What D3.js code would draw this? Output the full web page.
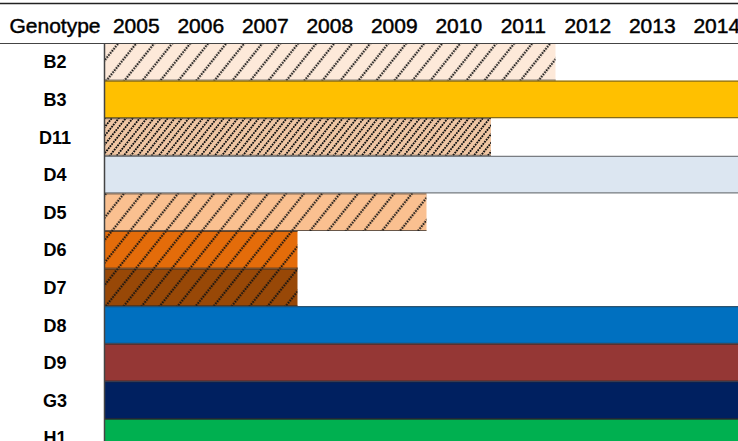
<!DOCTYPE html>
<html>
<head>
<meta charset="utf-8">
<script src="https://cdn.jsdelivr.net/npm/d3@7"></script>
<style>
  html, body { margin: 0; padding: 0; background: #fff; }
  svg { display: block; font-family: "Liberation Sans", Arial, sans-serif; }
</style>
</head>
<body>
<div id="graf"></div>
<script>
// I. Datos
genotypes = ['B2', 'B3', 'D11', 'D4', 'D5', 'D6', 'D7', 'D8', 'D9', 'G3', 'H1']
years     = [2005, 2006, 2007, 2008, 2009, 2010, 2011, 2012, 2013, 2014]
firstYear = [2005, 2005, 2005, 2005, 2005, 2005, 2005, 2005, 2005, 2005, 2005]
lastYear  = [2011, 2014, 2010, 2014, 2009, 2007, 2007, 2014, 2014, 2014, 2014]
fills     = ['#fde9d9', '#ffc000', '#efc6a4', '#dce6f1', '#fac090', '#e46c0a',
             '#984807', '#0070c0', '#953735', '#002060', '#00b050']
hatch     = ['wide', null, 'dense', null, 'wide', 'wide', 'wide', null, null, null, null]

// II. Configuración
ancho = 738
alto  = 441
margins = { top: 43, left: 104 }
colW = 64.5
rowH = 37.6

svg = d3.select('#graf').append('svg')
        .attr('width', ancho)
        .attr('height', alto)

x = d3.scaleLinear()
      .domain([2005, 2015])
      .range([margins.left, margins.left + colW * 10])

y = d3.scaleBand()
      .domain(genotypes)
      .range([margins.top, margins.top + rowH * genotypes.length])
      .padding(0)

// patrones de rayas (lineas diagonales punteadas)
defs = svg.append('defs')
function makeHatch(id, spacing, sw) {
  p = defs.append('pattern')
        .attr('id', id)
        .attr('patternUnits', 'userSpaceOnUse')
        .attr('width', 5.4)
        .attr('height', spacing)
        .attr('patternTransform', 'rotate(-51.3)')
  p.append('line')
    .attr('x1', 0).attr('x2', 5.4)
    .attr('y1', spacing / 2).attr('y2', spacing / 2)
    .attr('stroke', '#111')
    .attr('stroke-width', sw)
    .attr('stroke-dasharray', '1.8 0.9')
}
makeHatch('wide', 18 * Math.sin(51.3 * Math.PI / 180), 1.7)
makeHatch('dense', 7 * Math.sin(51.3 * Math.PI / 180), 1.6)

rows = genotypes.map((g, i) => ({
  g: g, start: firstYear[i], end: lastYear[i] + 1, fill: fills[i], hatch: hatch[i]
}))

// III. Barras
gBars = svg.append('g')

bars = gBars.selectAll('g.bar')
  .data(rows)
  .enter()
  .append('g')
    .attr('class', 'bar')

bars.append('rect')
    .attr('x', d => x(d.start))
    .attr('y', d => y(d.g))
    .attr('width', d => x(d.end) - x(d.start))
    .attr('height', y.bandwidth())
    .attr('fill', d => d.fill)

bars.filter(d => d.hatch)
  .append('rect')
    .attr('x', d => x(d.start))
    .attr('y', d => y(d.g))
    .attr('width', d => x(d.end) - x(d.start))
    .attr('height', y.bandwidth())
    .attr('fill', d => `url(#${ d.hatch })`)

// bordes horizontales de cada barra
bars.append('line')
    .attr('x1', d => x(d.start)).attr('x2', d => x(d.end))
    .attr('y1', d => y(d.g) + 0.5).attr('y2', d => y(d.g) + 0.5)
    .attr('stroke', '#2b2b2b').attr('stroke-opacity', 0.7)
bars.append('line')
    .attr('x1', d => x(d.start)).attr('x2', d => x(d.end))
    .attr('y1', d => y(d.g) + y.bandwidth() - 0.5).attr('y2', d => y(d.g) + y.bandwidth() - 0.5)
    .attr('stroke', '#2b2b2b').attr('stroke-opacity', 0.7)

// IV. Etiquetas
svg.selectAll('text.row')
  .data(genotypes)
  .enter()
  .append('text')
    .attr('class', 'row')
    .attr('x', 55)
    .attr('y', d => y(d) + y.bandwidth() / 2 + 6.5)
    .attr('text-anchor', 'middle')
    .style('font-size', '18px')
    .style('font-weight', 'bold')
    .text(d => d)

svg.append('text')
    .attr('class', 'head')
    .attr('x', 55)
    .attr('y', 33)
    .attr('text-anchor', 'middle')
    .text('Genotype')

svg.selectAll('text.year')
  .data(years)
  .enter()
  .append('text')
    .attr('class', 'head')
    .attr('x', d => (x(d) + x(d + 1)) / 2)
    .attr('y', 33)
    .attr('text-anchor', 'middle')
    .text(d => d)

svg.selectAll('text.head')
    .style('font-size', '21px')
    .attr('stroke', '#000')
    .attr('stroke-width', 0.45)

// V. Líneas de la tabla
svg.append('line')
    .attr('x1', 0).attr('x2', ancho)
    .attr('y1', 3.5).attr('y2', 3.5)
    .attr('stroke', '#222').attr('stroke-width', 1.5)
svg.append('line')
    .attr('x1', 0).attr('x2', ancho)
    .attr('y1', margins.top + 0.5).attr('y2', margins.top + 0.5)
    .attr('stroke', '#444').attr('stroke-width', 1.2)
svg.append('line')
    .attr('x1', margins.left + 0.5).attr('x2', margins.left + 0.5)
    .attr('y1', margins.top).attr('y2', alto)
    .attr('stroke', '#444').attr('stroke-width', 1.5)
</script>
</body>
</html>
